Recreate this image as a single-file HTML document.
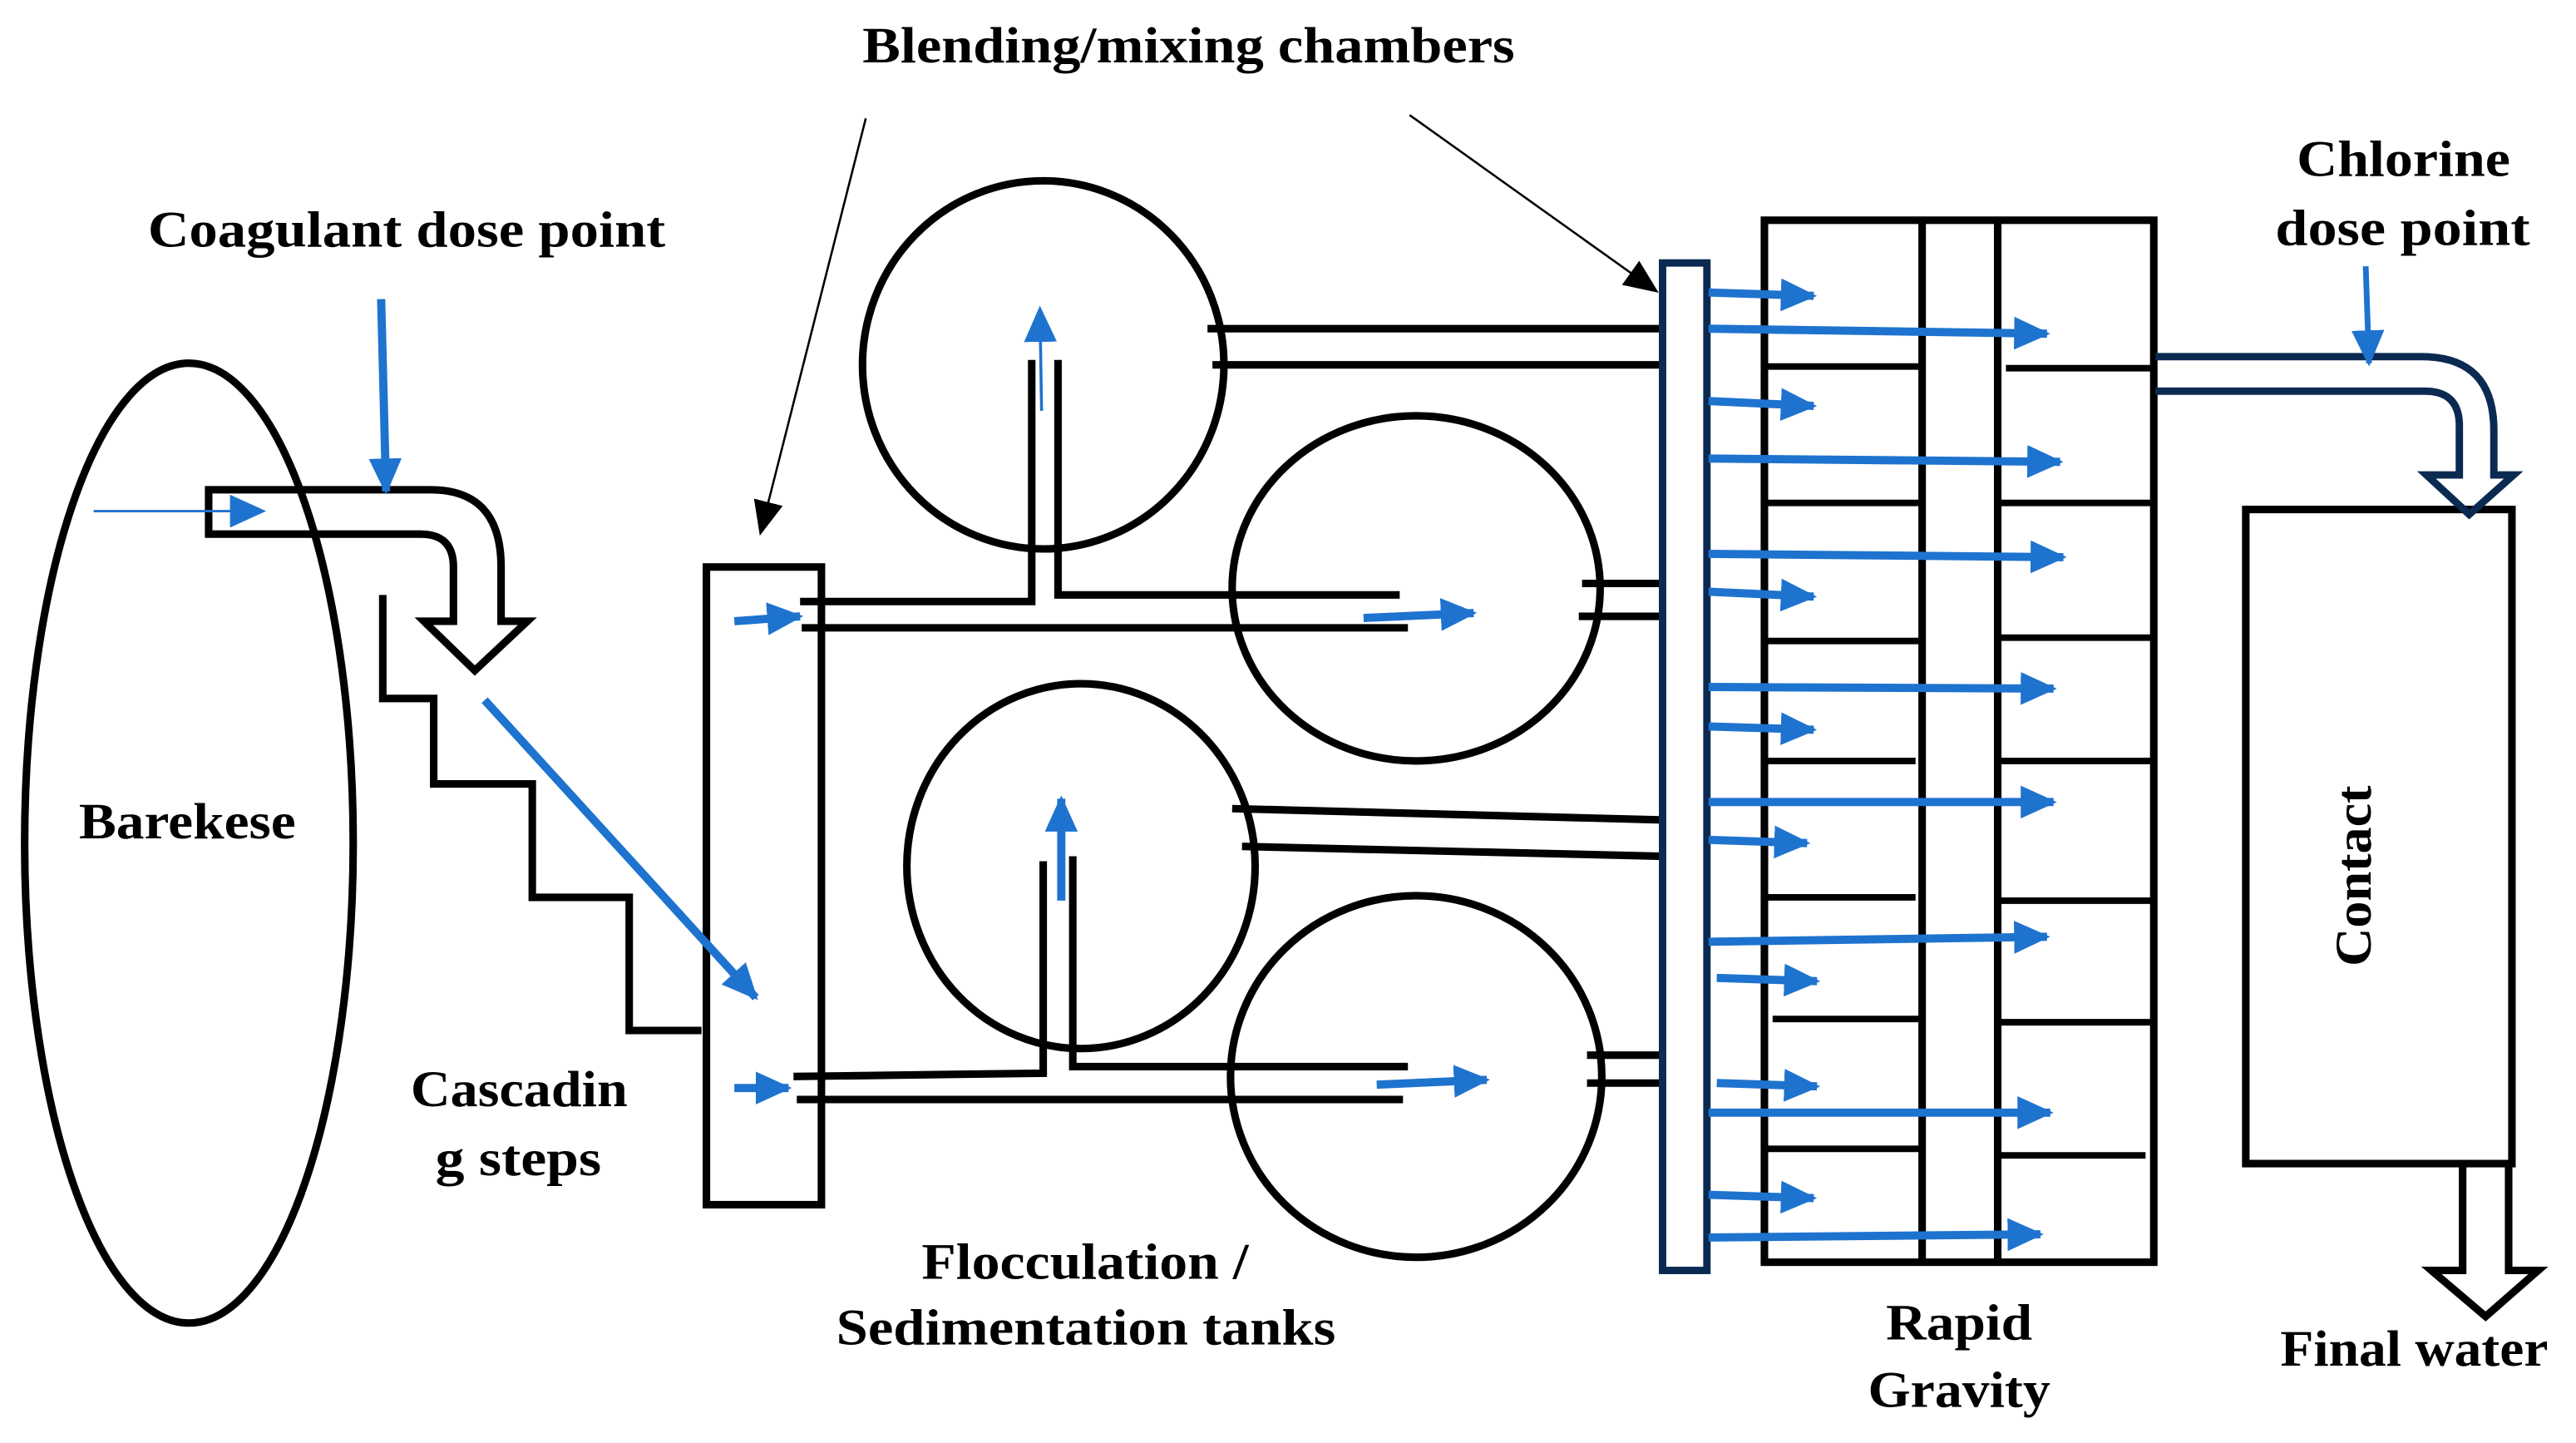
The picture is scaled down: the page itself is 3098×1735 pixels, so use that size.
<!DOCTYPE html>
<html><head><meta charset="utf-8"><style>
html,body{margin:0;padding:0;background:#fff;}
svg{display:block;}
text{font-family:"Liberation Serif",serif;font-weight:bold;fill:#000;font-size:31px;}
</style></head><body>
<svg width="3098" height="1735" viewBox="0 0 1568 878" preserveAspectRatio="none" xmlns="http://www.w3.org/2000/svg">
<defs>
<marker id="b" markerUnits="userSpaceOnUse" markerWidth="24" markerHeight="22" refX="20" refY="10" orient="auto"><path d="M0,0 L22,10 L0,20 z" fill="#1e73cf"/></marker>
<marker id="k" markerUnits="userSpaceOnUse" markerWidth="22" markerHeight="20" refX="19" refY="9" orient="auto"><path d="M0,0 L21,9 L0,18 z" fill="#000"/></marker>
</defs>
<g fill="none" stroke="#000" stroke-width="4.6">
<ellipse cx="115" cy="513" rx="100" ry="292"/>
<path d="M262,298 L127,298 L127,325 L256,325 Q276,325 276,345 L276,378 L258,378 L289,408 L321,378 L305,378 L305,345 Q305,298 262,298"/>
<polyline points="233,362 233,425 264,425 264,477 324,477 324,546 383,546 383,627 427,627"/>
<rect x="430" y="345" width="70" height="388"/>
<ellipse cx="635" cy="222" rx="110" ry="112"/>
<ellipse cx="862" cy="358" rx="112" ry="105"/>
<ellipse cx="658" cy="527" rx="106" ry="111"/>
<ellipse cx="862" cy="655" rx="113" ry="110"/>
<polyline points="487,366 628,366 628,219"/>
<polyline points="644,219 644,362 852,362"/>
<line x1="488" y1="382" x2="857" y2="382"/>
<line x1="735" y1="200" x2="1023" y2="200"/>
<line x1="738" y1="222" x2="1020" y2="222"/>
<line x1="963" y1="355" x2="1020" y2="355"/>
<line x1="961" y1="375" x2="1018" y2="375"/>
<polyline points="483,655 635,653 635,524"/>
<polyline points="653,521 653,649 857,649"/>
<line x1="485" y1="669" x2="854" y2="669"/>
<line x1="750" y1="492" x2="1016" y2="499"/>
<line x1="756" y1="515" x2="1012" y2="521"/>
<line x1="966" y1="642" x2="1020" y2="642"/>
<line x1="966" y1="659" x2="1020" y2="659"/>
<rect x="1074" y="134" width="237" height="634"/>
<line x1="1170" y1="134" x2="1170" y2="768"/>
<line x1="1216" y1="134" x2="1216" y2="768"/>
<g stroke-width="4">
<line x1="1074" y1="223" x2="1170" y2="223"/>
<line x1="1074" y1="306" x2="1170" y2="306"/>
<line x1="1074" y1="390" x2="1170" y2="390"/>
<line x1="1074" y1="463" x2="1166" y2="463"/>
<line x1="1074" y1="546" x2="1166" y2="546"/>
<line x1="1079" y1="620" x2="1170" y2="620"/>
<line x1="1074" y1="699" x2="1170" y2="699"/>
<line x1="1221" y1="224" x2="1311" y2="224"/>
<line x1="1216" y1="306" x2="1311" y2="306"/>
<line x1="1216" y1="388" x2="1311" y2="388"/>
<line x1="1216" y1="463" x2="1311" y2="463"/>
<line x1="1216" y1="548" x2="1311" y2="548"/>
<line x1="1216" y1="622" x2="1311" y2="622"/>
<line x1="1216" y1="703" x2="1306" y2="703"/>
</g>
<rect x="1367" y="310" width="162" height="398"/>
<path d="M1499,710 L1499,773 L1480,773 L1513,801 L1545,773 L1527,773 L1527,710"/>
</g>
<rect x="1012" y="160" width="27" height="613" fill="#fff" stroke="#0b2a52" stroke-width="4.5"/>
<path d="M1312,217 L1474,217 Q1518,217 1518,262 L1518,289 L1530,289 L1503,313 L1477,289 L1497,289 L1497,259 Q1497,238 1476,238 L1312,238" fill="none" stroke="#0b2a52" stroke-width="4.5"/>
<g stroke="#000" stroke-width="1.3">
<line x1="527" y1="72" x2="463" y2="324" marker-end="url(#k)"/>
<line x1="858" y1="70" x2="1008" y2="177" marker-end="url(#k)"/>
</g>
<g stroke="#1e73cf" stroke-width="5" marker-end="url(#b)">
<line x1="232" y1="182" x2="235" y2="299"/>
<line x1="57" y1="311" x2="160" y2="311" stroke-width="1.5"/>
<line x1="295" y1="426" x2="460" y2="607"/>
<line x1="447" y1="378" x2="487" y2="375"/>
<line x1="447" y1="662" x2="480" y2="662"/>
<line x1="634" y1="250" x2="633" y2="188" stroke-width="1.8"/>
<line x1="646" y1="548" x2="646" y2="486"/>
<line x1="830" y1="376" x2="897" y2="373"/>
<line x1="838" y1="660" x2="905" y2="657"/>
<line x1="1440" y1="162" x2="1442" y2="221" stroke-width="3.5"/>
<line x1="1040" y1="178" x2="1104" y2="180"/>
<line x1="1040" y1="244" x2="1104" y2="247"/>
<line x1="1040" y1="360" x2="1104" y2="363"/>
<line x1="1040" y1="442" x2="1104" y2="444"/>
<line x1="1040" y1="511" x2="1100" y2="513"/>
<line x1="1045" y1="595" x2="1106" y2="597"/>
<line x1="1045" y1="659" x2="1106" y2="661"/>
<line x1="1040" y1="727" x2="1104" y2="729"/>
<line x1="1040" y1="200" x2="1246" y2="203"/>
<line x1="1040" y1="279" x2="1254" y2="281"/>
<line x1="1040" y1="337" x2="1256" y2="339"/>
<line x1="1040" y1="418" x2="1250" y2="419"/>
<line x1="1040" y1="488" x2="1250" y2="488"/>
<line x1="1040" y1="573" x2="1246" y2="570"/>
<line x1="1040" y1="677" x2="1248" y2="677"/>
<line x1="1040" y1="753" x2="1242" y2="751"/>
</g>
<text x="525" y="38" textLength="397" lengthAdjust="spacingAndGlyphs">Blending/mixing chambers</text>
<text x="90" y="150" textLength="315" lengthAdjust="spacingAndGlyphs">Coagulant dose point</text>
<text x="1398" y="107" textLength="130" lengthAdjust="spacingAndGlyphs">Chlorine</text>
<text x="1385" y="149" textLength="155" lengthAdjust="spacingAndGlyphs">dose point</text>
<text x="48" y="510" textLength="132" lengthAdjust="spacingAndGlyphs">Barekese</text>
<text x="250" y="673" textLength="132" lengthAdjust="spacingAndGlyphs">Cascadin</text>
<text x="265" y="715" textLength="101" lengthAdjust="spacingAndGlyphs">g steps</text>
<text x="561" y="778" textLength="199" lengthAdjust="spacingAndGlyphs">Flocculation /</text>
<text x="509" y="818" textLength="304" lengthAdjust="spacingAndGlyphs">Sedimentation tanks</text>
<text x="1148" y="815" textLength="89" lengthAdjust="spacingAndGlyphs">Rapid</text>
<text x="1137" y="856" textLength="111" lengthAdjust="spacingAndGlyphs">Gravity</text>
<text x="1388" y="831" textLength="163" lengthAdjust="spacingAndGlyphs">Final water</text>
<text transform="translate(1443,588) rotate(-90)" x="0" y="0" textLength="110" lengthAdjust="spacingAndGlyphs">Contact</text>
</svg>
</body></html>
